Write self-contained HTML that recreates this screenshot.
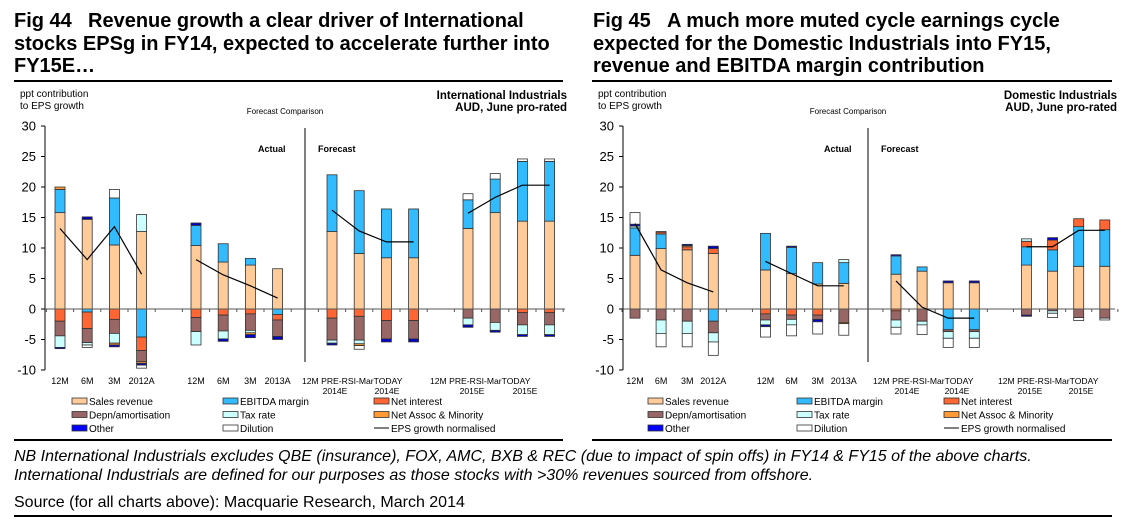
<!DOCTYPE html>
<html><head><meta charset="utf-8">
<style>
body{margin:0;background:#fff;width:1125px;height:522px;overflow:hidden;font-family:"Liberation Sans",Arial,sans-serif}
svg text{font-family:"Liberation Sans",Arial,sans-serif}
</style></head>
<body>
<svg id="root" width="1125" height="522" viewBox="0 0 1125 522" xmlns="http://www.w3.org/2000/svg">
<g font-size="20" font-weight="bold" fill="#000">
<text x="14" y="27">Fig 44<tspan x="88">Revenue growth a clear driver of International</tspan></text>
<text x="14" y="50">stocks EPSg in FY14, expected to accelerate further into</text>
<text x="14" y="72">FY15E…</text>
</g>
<g font-size="20" font-weight="bold" fill="#000">
<text x="593" y="27">Fig 45<tspan x="667">A much more muted cycle earnings cycle</tspan></text>
<text x="593" y="50">expected for the Domestic Industrials into FY15,</text>
<text x="593" y="72">revenue and EBITDA margin contribution</text>
</g>
<rect x="14" y="80" width="549" height="2" fill="#000"/>
<rect x="592" y="80" width="520" height="2" fill="#000"/>
<g id="chartL"></g>
<g id="chartR"></g>
<rect x="14" y="439" width="549" height="2" fill="#000"/>
<rect x="592" y="439" width="520" height="2" fill="#000"/>
<g font-size="16" font-style="italic" fill="#000">
<text x="14" y="461">NB International Industrials excludes QBE (insurance), FOX, AMC, BXB &amp; REC (due to impact of spin offs) in FY14 &amp; FY15 of the above charts.</text>
<text x="14" y="480">International Industrials are defined for our purposes as those stocks with &gt;30% revenues sourced from offshore.</text>
</g>
<text x="14" y="507" font-size="16">Source (for all charts above): Macquarie Research, March 2014</text>
<rect x="14" y="515" width="1098" height="2" fill="#000"/>
</svg>
<script>
const categories=["12M","6M","3M","2012A","12M","6M","3M","2013A","12M","PRE-RSI","Mar","TODAY","12M","PRE-RSI","Mar","TODAY"];
const yTicks=[30,25,20,15,10,5,0,-5,-10];
const L_sales=[15.8,14.7,10.5,12.7,10.4,7.7,7.2,6.6,12.7,9.1,8.4,8.4,13.2,15.8,14.4,14.4];
const L_ebitda=[3.8,-0.5,7.7,-4.6,3.3,3.0,1.1,-0.9,9.3,10.3,8.0,8.0,4.7,5.5,9.8,9.8];
const L_netint=[-2.0,-2.7,-1.7,-2.2,-1.4,-1.0,-0.8,-0.9,-1.5,-1.2,-1.9,-1.9,0,0,-0.6,-0.6];
const L_assoc=[0.4,0,-0.3,-0.3,0,0,-0.3,0,0,-0.3,0,0,0,0,0,0];
const L_tax=[-1.9,-0.4,-1.6,2.8,-2.2,-1.3,-0.4,0,-0.5,-0.6,0,0,-1.1,-1.3,-1.6,-1.6];
const L_depn=[-2.4,-2.3,-2.3,-1.8,-2.3,-2.6,-2.7,-2.7,-3.6,-3.9,-3.0,-3.0,-1.5,-2.2,-2.0,-2.0];
const L_other=[-0.2,0.4,-0.3,-0.3,0.4,-0.4,-0.5,-0.5,-0.3,0,-0.5,-0.5,-0.4,-0.3,-0.3,-0.3];
const L_dil=[0,-0.4,1.4,-0.5,0,0,0,0,0,-0.6,0,0,1.0,0.9,0.4,0.4];
const L_eps=[13.2,8.1,13.5,5.7,8.1,5.6,3.8,1.8,16.2,12.8,11.0,11.0,15.7,18.3,20.3,20.3];
const R_sales=[8.8,9.9,9.7,9.1,6.4,5.8,4.1,4.2,5.7,6.2,4.3,4.3,7.2,6.2,7.0,7.0];
const R_ebitda=[4.5,2.4,0,-2.0,6.0,4.3,3.5,3.4,3.0,0.7,-3.4,-3.4,3.0,3.5,6.5,6.0];
const R_netint=[0,0.3,0.5,0.8,-0.8,-1.0,-1.0,0,-0.3,0,0,0,0.9,1.6,1.3,1.6];
const R_assoc=[0,0,0.2,0,0,0,0,-0.2,0,0,0,0,0,0,0,0];
const R_tax=[0.3,-2.2,-2.0,-1.5,-0.8,-0.9,0,0.5,-1.2,-0.6,-1.1,-1.1,0.4,-0.4,0,0];
const R_depn=[-1.5,-1.8,-2.0,-1.9,-1.0,-0.7,-0.7,-2.2,-1.5,-2.0,-0.3,-0.3,-1.0,-0.3,-1.4,-1.5];
const R_other=[0.3,0.1,0.2,0.4,-0.3,0.2,-0.4,0,0.2,0,0.3,0.3,-0.2,0.4,0,0];
const R_dil=[1.9,-2.2,-2.2,-2.2,-1.7,-1.8,-2.0,-1.9,-1.1,-1.6,-1.5,-1.5,0,-0.7,-0.5,-0.3];
const R_eps=[14.0,6.4,4.3,2.8,7.8,5.8,3.8,3.8,4.6,0.3,-1.5,-1.5,10.2,10.2,12.9,12.9];

const NS="http://www.w3.org/2000/svg";
const COL={sales:"#FFCC99",ebitda:"#33BBFF",netint:"#FF6633",assoc:"#FF9933",tax:"#CCFFFF",depn:"#996666",other:"#0000CC",dil:"#FFFFFF"};
function mk(tag,attrs,parent){const e=document.createElementNS(NS,tag);for(const k in attrs)e.setAttribute(k,attrs[k]);parent.appendChild(e);return e;}
function yS(v){return 309-v*6.1;}

function drawChart(g,o){
  const xS=i=>o.x0+(i+Math.floor(i/4))*o.step;
  let a=mk("line",{x1:o.ax,y1:yS(30),x2:o.ax,y2:yS(-10),stroke:"#000","stroke-width":1},g);
  
  
  yTicks.forEach(t=>{
    const tk=mk("line",{x1:o.ax-4,y1:yS(t),x2:o.ax,y2:yS(t),stroke:"#000"},g);
    
    
    const tl=mk("text",{x:o.ax-9,y:yS(t)+4.5,"font-size":13,"text-anchor":"end"},g);
    tl.textContent=t;
    
    
  });
  const dv=mk("line",{x1:o.div,y1:128,x2:o.div,y2:362,stroke:"#000","stroke-width":1},g);
  
  
  const posOrder=["sales","ebitda","netint","assoc","tax","other","dil","depn"];
  const negOrder=["ebitda","netint","depn","tax","assoc","other","dil","sales"];
  for(let i=0;i<16;i++){
    const x=xS(i)-5;
    let p=0,n=0;
    posOrder.forEach(k=>{const v=o.d[k][i];if(v>0){const r=mk("rect",{x:x,y:yS(p+v),width:10,height:v*6.1,fill:COL[k],stroke:"#333","stroke-width":0.8},g);p+=v;}});
    negOrder.forEach(k=>{const v=o.d[k][i];if(v<0){const r=mk("rect",{x:x,y:yS(n),width:10,height:-v*6.1,fill:COL[k],stroke:"#333","stroke-width":0.8},g);n+=v;}});
  }
  const xa=mk("line",{x1:o.ax,y1:yS(0),x2:o.axEnd,y2:yS(0),stroke:"#555","stroke-width":1},g);
  
  
  for(let s=0;s<20;s++){const xt=o.x0+(s-0.5)*o.step;const t=mk("line",{x1:xt,y1:yS(0),x2:xt,y2:yS(0)+3,stroke:"#555"},g);}
  for(let gi=0;gi<4;gi++){
    const pts=[];for(let i=gi*4;i<gi*4+4;i++)pts.push(xS(i)+","+yS(o.eps[i]));
    const pl=mk("polyline",{points:pts.join(" "),fill:"none",stroke:"#000","stroke-width":1.2},g);
    
    
  }
  for(let i=0;i<8;i++){
    const t=mk("text",{x:xS(i),y:384,"font-size":9,"text-anchor":"middle"},g);
    t.textContent=categories[i];
    
    
  }
  o.fl.forEach((fx,j)=>{
    const t=mk("text",{x:fx,y:384,"font-size":8.6},g);
    t.textContent="12M PRE-RSI-MarTODAY";
    
    
    o.yl[j].forEach(yx=>{const u=mk("text",{x:yx,y:394,"font-size":8.6,"text-anchor":"middle"},g);u.textContent=j?"2015E":"2014E";});
  });
  const h=[["ppt contribution",o.ax-25,97,10,"start","normal"],["to EPS growth",o.ax-25,109,10,"start","normal"],["Forecast Comparison",o.div-20,114,8,"middle","normal"],["Actual",o.div+o.actOff,152,9,"start","bold"],["Forecast",o.div+13,152,9,"start","bold"],[o.t1,o.axEnd+2,99,11.5,"end","bold"],["AUD, June pro-rated",o.axEnd+2,111,11.5,"end","bold"]];
  h.forEach(r=>{const t=mk("text",{x:r[1],y:r[2],"font-size":r[3],"text-anchor":r[4],"font-weight":r[5]},g);t.textContent=r[0];});
  const leg=[["sales","Sales revenue",0,0],["ebitda","EBITDA margin",1,0],["netint","Net interest",2,0],["depn","Depn/amortisation",0,1],["tax","Tax rate",1,1],["assoc","Net Assoc & Minority",2,1],["other","Other",0,2],["dil","Dilution",1,2],["eps","EPS growth normalised",2,2]];
  leg.forEach(l=>{
    const lx=o.lx[l[2]],ly=401+l[3]*13.5;
    const lg=mk("g",{},g);
    
    
    if(l[0]==="eps")mk("line",{x1:lx,y1:ly,x2:lx+15,y2:ly,stroke:"#555","stroke-width":1.5},lg);
    else mk("rect",{x:lx,y:ly-3,width:15,height:6,fill:l[0]==="other"?"#0000FF":COL[l[0]],stroke:"#333","stroke-width":0.8},lg);
    const t=mk("text",{x:lx+17,y:ly+4,"font-size":10},lg);t.textContent=l[1];
  });
}
drawChart(document.getElementById("chartL"),{x0:60,step:27.2,ax:45,axEnd:565,div:305,actOff:-47,eps:L_eps,t1:"International Industrials",
  d:{sales:L_sales,ebitda:L_ebitda,netint:L_netint,assoc:L_assoc,tax:L_tax,depn:L_depn,other:L_other,dil:L_dil},
  fl:[302,430],yl:[[335,387],[472,525]],lx:[72,223,374]});
drawChart(document.getElementById("chartR"),{x0:635,step:26.1,ax:623,axEnd:1115,div:868,actOff:-44,eps:R_eps,t1:"Domestic Industrials",
  d:{sales:R_sales,ebitda:R_ebitda,netint:R_netint,assoc:R_assoc,tax:R_tax,depn:R_depn,other:R_other,dil:R_dil},
  fl:[873,998],yl:[[907,957],[1030,1081]],lx:[648,797,944]});
</script>
</body></html>
